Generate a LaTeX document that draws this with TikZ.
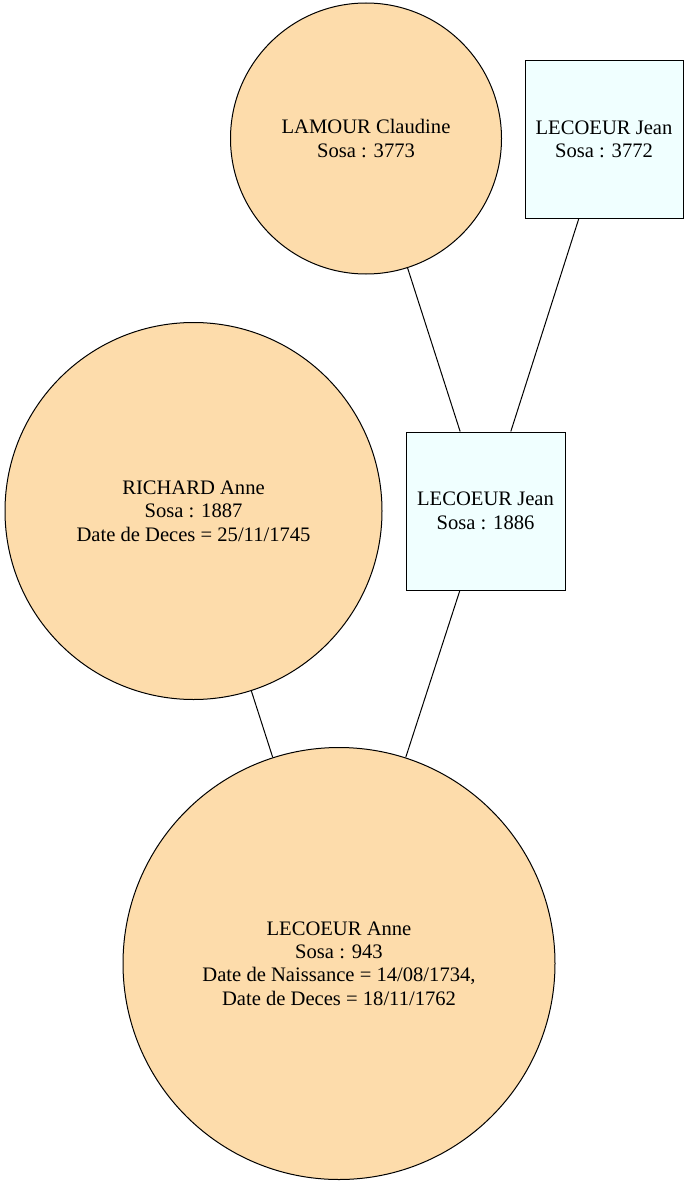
\documentclass[tikz,border=0pt]{standalone}
\usepackage{fontspec}
\setmainfont{Liberation Serif}
\usepackage{tikz}

\definecolor{personF}{HTML}{FDDCAB}
\definecolor{personM}{HTML}{F0FFFF}

\begin{document}
\begin{tikzpicture}[x=1pt, y=-1pt,
    font=\fontsize{20.6}{23.4}\selectfont,
    female/.style={circle, draw, line width=1pt, fill=personF, align=center, inner sep=0pt},
    male/.style={rectangle, draw, line width=1pt, fill=personM, align=center, inner sep=0pt},
    link/.style={line width=1pt}]
    \useasboundingbox (0, 0) rectangle (689, 1185);

    \node[female, minimum size=271pt] at (366, 138.5) (claudine) {LAMOUR Claudine\\Sosa : 3773};
    \node[male, minimum width=158pt, minimum height=157pt] at (604, 139.5) (jean3772) {LECOEUR Jean\\Sosa : 3772};
    \node[female, minimum size=377pt] at (193.5, 511) (richard) {RICHARD Anne\\Sosa : 1887\\Date de Deces = 25/11/1745};
    \node[male, minimum width=159pt, minimum height=158pt] at (485.5, 511) (jean1886) {LECOEUR Jean\\Sosa : 1886};
    \node[female, minimum size=432pt] at (339, 963.5) (anne) {LECOEUR Anne\\Sosa : 943\\Date de Naissance = 14/08/1734,\\Date de Deces = 18/11/1762};

    \draw[link] (claudine) -- (jean1886);
    \draw[link] (jean3772) -- (jean1886);
    \draw[link] (richard) -- (anne);
    \draw[link] (jean1886) -- (anne);
\end{tikzpicture}
\end{document}
